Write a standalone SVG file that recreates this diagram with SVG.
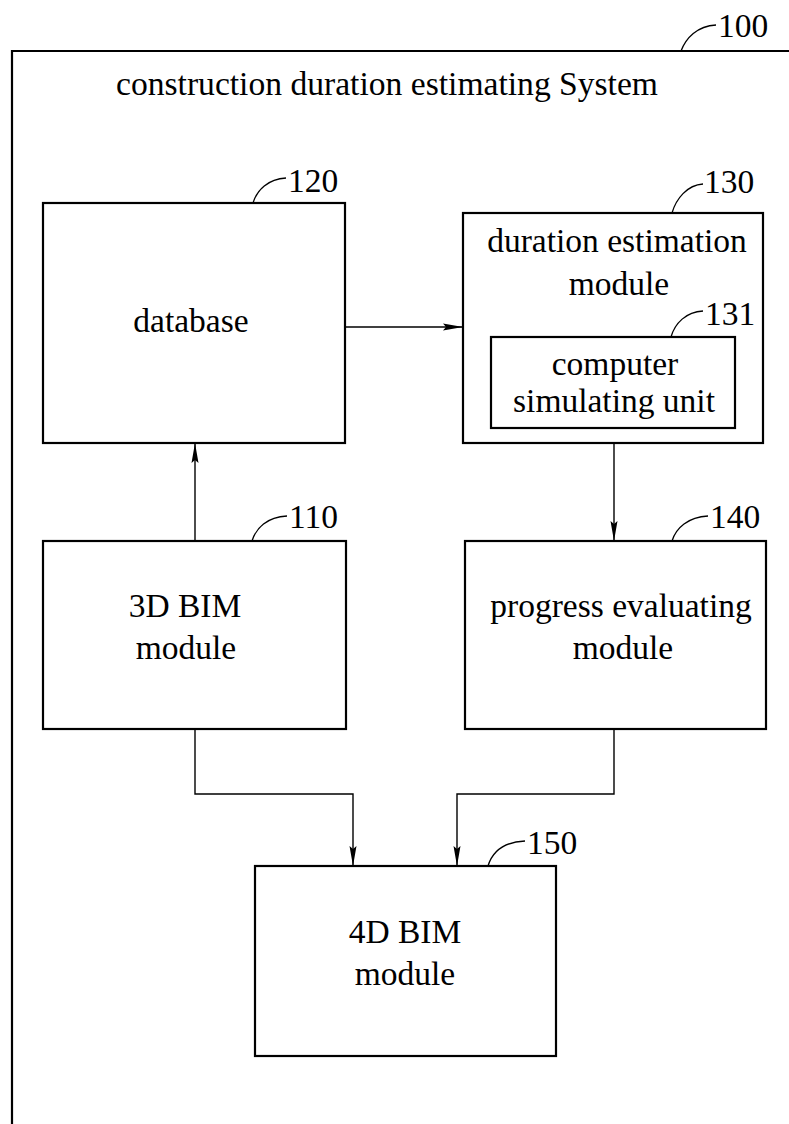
<svg xmlns="http://www.w3.org/2000/svg" width="789" height="1124" viewBox="0 0 789 1124" font-family="'Liberation Serif', 'Times New Roman', 'DejaVu Serif', serif">
<style>
.box{fill:#fff;stroke:#000;stroke-width:2.2}
.frame{fill:none;stroke:#000;stroke-width:2.2}
.con{fill:none;stroke:#000;stroke-width:1.4}
.lead{fill:none;stroke:#000;stroke-width:1.3}
.t{font-family:'Liberation Serif','Times New Roman','DejaVu Serif',serif;font-size:33.5px;fill:#000}
.c{text-anchor:middle}
</style>
<defs>
<marker id="ah" markerUnits="userSpaceOnUse" markerWidth="20" markerHeight="8" refX="20" refY="4" orient="auto">
<path d="M0,0.5 L20,4 L0,7.5 L3,4 z" fill="#000"/>
</marker>
</defs>
<rect width="789" height="1124" fill="#fff"/>
<g id="frame-100">
<path class="frame" d="M12,1124 V51 H789"/>
<path class="lead" d="M681,51 C686,38 697,26 716,25"/>
<text class="t" x="718" y="37">100</text>
<text class="t" x="116" y="95" textLength="542" lengthAdjust="spacingAndGlyphs">construction duration estimating System</text>
</g>
<g id="connectors">
<path class="con" d="M345,327 H463" marker-end="url(#ah)"/>
<path class="con" d="M195,541 V443" marker-end="url(#ah)"/>
<path class="con" d="M614,443 V541" marker-end="url(#ah)"/>
<path class="con" d="M195,729 V794 H353 V866" marker-end="url(#ah)"/>
<path class="con" d="M614,729 V794 H457 V866" marker-end="url(#ah)"/>
</g>
<g id="node-120">
<rect class="box" x="43" y="203" width="302" height="240"/>
<path class="lead" d="M253,203 C257,190 268,179 286,178"/>
<text class="t" x="288" y="192">120</text>
<text class="t c" x="191" y="332">database</text>
</g>
<g id="node-130">
<rect class="box" x="463" y="213" width="300" height="230"/>
<path class="lead" d="M672,213 C676,199 687,185 703,184"/>
<text class="t" x="704" y="193">130</text>
<text class="t c" x="617" y="252">duration estimation</text>
<text class="t c" x="619" y="295">module</text>
</g>
<g id="node-131">
<rect class="box" x="491" y="337" width="244" height="91"/>
<path class="lead" d="M671,337 C675,323 686,312 703,311"/>
<text class="t" x="705" y="325">131</text>
<text class="t c" x="615" y="375">computer</text>
<text class="t c" x="614" y="412">simulating unit</text>
</g>
<g id="node-110">
<rect class="box" x="43" y="541" width="303" height="188"/>
<path class="lead" d="M252,541 C256,528 267,517 287,516"/>
<text class="t" x="289" y="528">110</text>
<text class="t c" x="185" y="617">3D BIM</text>
<text class="t c" x="186" y="659">module</text>
</g>
<g id="node-140">
<rect class="box" x="465" y="541" width="301" height="188"/>
<path class="lead" d="M672,541 C676,528 688,517 708,516"/>
<text class="t" x="710" y="528">140</text>
<text class="t c" x="621" y="617">progress evaluating</text>
<text class="t c" x="623" y="659">module</text>
</g>
<g id="node-150">
<rect class="box" x="255" y="866" width="301" height="190"/>
<path class="lead" d="M488,866 C492,853 503,842 525,841"/>
<text class="t" x="527" y="854">150</text>
<text class="t c" x="405" y="943">4D BIM</text>
<text class="t c" x="405" y="985">module</text>
</g>
</svg>
